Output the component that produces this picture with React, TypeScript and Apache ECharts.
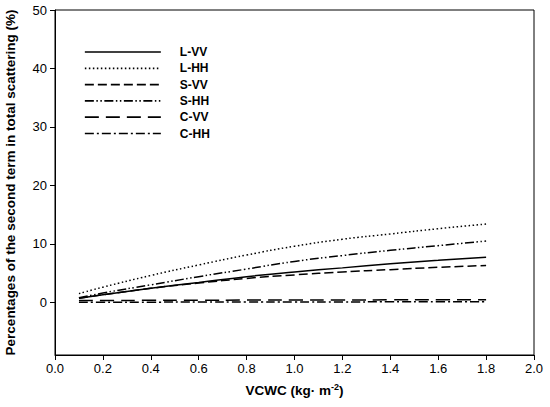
import React, { useEffect, useRef } from "react";
import * as echarts from "echarts";

const vcwc = [0.1, 0.2, 0.4, 0.6, 0.8, 1.0, 1.2, 1.4, 1.6, 1.8];
const lVV = [0.7, 1.3, 2.4, 3.4, 4.4, 5.2, 5.9, 6.6, 7.2, 7.7];
const lHH = [1.5, 2.6, 4.6, 6.4, 8.1, 9.6, 10.8, 11.7, 12.6, 13.4];
const sVV = [0.7, 1.3, 2.4, 3.3, 4.1, 4.7, 5.2, 5.6, 6.0, 6.3];
const sHH = [0.8, 1.6, 3.0, 4.4, 5.7, 7.0, 8.0, 8.9, 9.7, 10.5];
const cVV = [0.3, 0.32, 0.35, 0.37, 0.39, 0.4, 0.42, 0.43, 0.44, 0.45];
const cHH = [0.02, 0.03, 0.04, 0.05, 0.06, 0.07, 0.08, 0.09, 0.1, 0.1];
const yTicks = [0, 10, 20, 30, 40, 50];

const seriesDefs = [
  { name: "L-VV", data: lVV, type: "solid" as any },
  { name: "L-HH", data: lHH, type: [1.5, 2.5] },
  { name: "S-VV", data: sVV, type: [9, 4] },
  { name: "S-HH", data: sHH, type: [9, 2.5, 1.5, 2.5, 1.5, 2.5] },
  { name: "C-VV", data: cVV, type: [14, 7] },
  { name: "C-HH", data: cHH, type: [9, 3, 2, 3] },
];

const FONT = "'Liberation Sans', Arial, sans-serif";

export default function App() {
  const ref = useRef<HTMLDivElement>(null);
  useEffect(() => {
    if (!ref.current) return;
    const chart = echarts.init(ref.current, null, { renderer: "svg" });
    chart.setOption({
      animation: false,
      backgroundColor: "#fff",
      textStyle: { fontFamily: FONT, color: "#000" },
      grid: {
        left: 55,
        right: 16,
        top: 10,
        bottom: 52,
        outerBoundsMode: "none",
        containLabel: false,
        show: true,
        borderColor: "#000",
        borderWidth: 1,
        backgroundColor: "transparent",
      },
      legend: {
        orient: "vertical",
        left: 79,
        top: 41,
        itemWidth: 76,
        itemHeight: 14,
        itemGap: 4.3,
        textStyle: {
          fontFamily: FONT,
          fontWeight: "bold",
          fontSize: 12,
          color: "#000",
          padding: [0, 0, 0, 14],
        },
        data: seriesDefs.map((s) => ({
          name: s.name,
          itemStyle: { opacity: 0 },
          lineStyle: { color: "#000", width: 1.7, type: s.type, opacity: 1 },
        })),
      },
      xAxis: {
        type: "value",
        min: 0,
        max: 2,
        interval: 0.2,
        name: "{b|VCWC (kg· m}{s|-2}{b|)}",
        nameLocation: "middle",
        nameGap: 27,
        nameTextStyle: {
          rich: {
            b: { fontFamily: FONT, fontWeight: "bold", fontSize: 13.5, color: "#000" },
            s: { fontFamily: FONT, fontWeight: "bold", fontSize: 9, color: "#000", verticalAlign: "top", padding: [0, 0, 7, 0] },
          },
        },
        axisLine: { show: true, onZero: false, lineStyle: { color: "#000", width: 1 } },
        axisTick: { show: true, inside: false, length: 5, lineStyle: { color: "#000" } },
        axisLabel: {
          fontFamily: FONT,
          fontSize: 13,
          color: "#000",
          margin: 7,
          formatter: (v: number) => v.toFixed(1),
        },
        splitLine: { show: false },
      },
      yAxis: {
        type: "value",
        min: -9,
        max: 50,
        name: "Percentages of the second term in total scattering (%)",
        nameLocation: "middle",
        nameGap: 38,
        nameTextStyle: { fontFamily: FONT, fontWeight: "bold", fontSize: 13.5, color: "#000" },
        axisLine: { show: true, onZero: false, lineStyle: { color: "#000", width: 1 } },
        axisTick: { show: true, inside: false, length: 5, customValues: yTicks, lineStyle: { color: "#000" } },
        axisLabel: {
          fontFamily: FONT,
          fontSize: 13,
          color: "#000",
          margin: 8,
          customValues: yTicks,
        },
        splitLine: { show: false },
      },
      series: seriesDefs.map((s) => ({
        name: s.name,
        type: "line",
        symbol: "none",
        smooth: true,
        data: vcwc.map((x, i) => [x, s.data[i]]),
        lineStyle: { color: "#000", width: 1.5, type: s.type },
        itemStyle: { color: "#000" },
      })),
    });
    return () => chart.dispose();
  }, []);
  return <div ref={ref} style={{ width: 550, height: 407, position: "absolute", left: 0, top: 0 }} />;
}
